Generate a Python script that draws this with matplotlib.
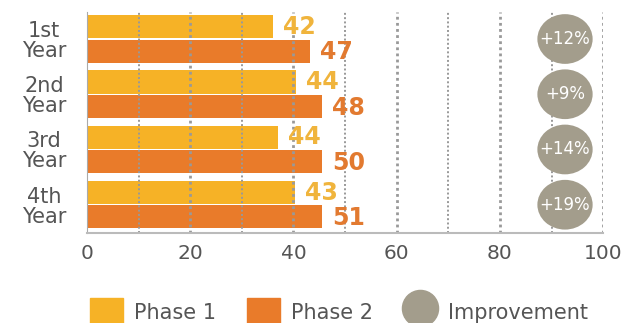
import matplotlib.pyplot as plt
import numpy as np
from matplotlib.patches import Patch, Ellipse
from matplotlib.lines import Line2D

plt.rcParams['font.family'] = ['DejaVu Sans']

years = ['1st\nYear', '2nd\nYear', '3rd\nYear', '4th\nYear']
# bar lengths as drawn in the picture
phase1 = [36, 40.5, 37, 40.3]
phase2 = [43.2, 45.5, 45.5, 45.5]
# numbers printed next to the bars
phase1_labels = ['42', '44', '44', '43']
phase2_labels = ['47', '48', '50', '51']
improvement = ['+12%', '+9%', '+14%', '+19%']
xticks = [0, 20, 40, 60, 80, 100]

c1 = '#f6b226'
c2 = '#e97b2a'
c1_txt = '#f0b43c'
c2_txt = '#e27a30'
grey = '#a39d8c'
txt_grey = '#555555'

fig = plt.figure(figsize=(6.39, 3.23), dpi=100)
ax = fig.add_axes([0.136, 0.279, 0.808, 0.684])

y = np.arange(len(years))
h = 0.42
ax.barh(y - 0.22, phase1, height=h, color=c1, zorder=1)
ax.barh(y + 0.22, phase2, height=h, color=c2, zorder=1)

# dotted vertical grid, drawn over the bars
for gx in range(10, 101, 10):
    lw = 2.0 if gx % 20 == 0 else 1.4
    ax.axvline(gx, color='#999999', lw=lw, ls=(0, (1, 1.2)), zorder=2)

for i in range(len(years)):
    ax.text(phase1[i] + 2.0, y[i] - 0.22, phase1_labels[i], color=c1_txt,
            fontsize=17, fontweight='bold', va='center', ha='left', zorder=4)
    ax.text(phase2[i] + 2.0, y[i] + 0.24, phase2_labels[i], color=c2_txt,
            fontsize=17, fontweight='bold', va='center', ha='left', zorder=4)

circle_x = 92.6
for i in range(len(years)):
    ax.add_patch(Ellipse((circle_x, y[i]), width=10.7, height=0.9, color=grey, lw=0, zorder=3))
    ax.text(circle_x, y[i], improvement[i], color='white', fontsize=12,
            ha='center', va='center', zorder=5)

ax.set_xlim(0, 100)
ax.set_ylim(3.51, -0.49)
ax.set_xticks(xticks)
ax.set_yticks(y)
ax.set_yticklabels(years, fontsize=15, color=txt_grey, ha='center', linespacing=1.0)
ax.tick_params(axis='y', length=0, pad=31)
ax.tick_params(axis='x', length=0, pad=8, labelsize=14.5, labelcolor=txt_grey)
for s in ['top', 'right']:
    ax.spines[s].set_visible(False)
ax.spines['left'].set_color('#aaaaaa')
ax.spines['bottom'].set_color('#bbbbbb')
ax.spines['bottom'].set_linewidth(1.5)

handles = [Patch(color=c1, label='Phase 1'),
           Patch(color=c2, label='Phase 2'),
           Line2D([], [], marker='o', ls='', color=grey, markersize=26, label='Improvement')]
fig.legend(handles=handles, loc='center', bbox_to_anchor=(0.53, 0.035), ncol=3,
           frameon=False, fontsize=15, handlelength=1.6, handleheight=1.6,
           columnspacing=1.5, handletextpad=0.5, labelcolor=txt_grey)

fig.savefig('out.png', dpi=100)
